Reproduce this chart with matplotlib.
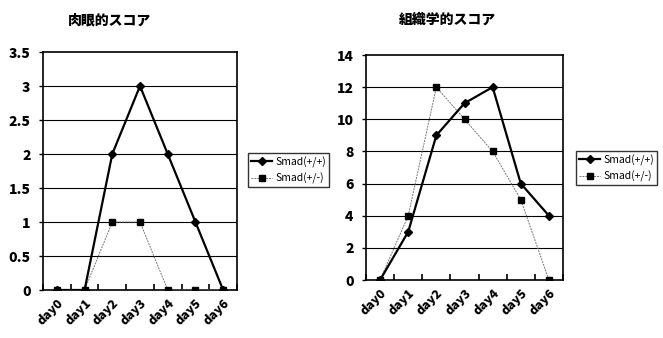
import numpy as np
import matplotlib.pyplot as plt

plt.rcParams['font.family'] = ['Noto Sans CJK JP', 'DejaVu Sans']

days = ['day0', 'day1', 'day2', 'day3', 'day4', 'day5', 'day6']
titles = ['肉眼的スコア', '組織学的スコア']
series_names = ['Smad(+/+)', 'Smad(+/-)']

macro_wt = [0, 0, 2, 3, 2, 1, 0]
macro_het = [0, 0, 1, 1, 0, 0, 0]
histo_wt = [0, 3, 9, 11, 12, 6, 4]
histo_het = [0, 4, 12, 10, 8, 5, 0]

ylims = [(0, 3.5, 0.5), (0, 14, 2)]

fig = plt.figure(figsize=(6.63, 3.38), dpi=100)
W, H = 663, 338
boxes = [(43, 52, 237, 290), (366, 55, 563, 280)]
legpos = [(243, 148), (571, 146)]
titlepos = [(110, 20), (447, 20)]
data = [(macro_wt, macro_het), (histo_wt, histo_het)]

x = np.arange(len(days))
for i in range(2):
    l, t, r, b = boxes[i]
    ax = fig.add_axes([l / W, 1 - b / H, (r - l) / W, (b - t) / H])
    wt, het = data[i]
    ymin, ymax, step = ylims[i]
    ax.plot(x, het, color='#777777', lw=0.7, ls=(0, (2, 1)), marker='s', ms=4,
            mfc='black', mec='black', label=series_names[1], zorder=3)
    ax.plot(x, wt, color='black', lw=1.6, marker='D', ms=4,
            mfc='black', mec='black', label=series_names[0], zorder=4)
    ax.set_xlim(-0.5, 6.5)
    ax.set_ylim(ymin, ymax)
    yt = np.arange(ymin, ymax + step / 2, step)
    ax.set_yticks(yt)
    ax.set_yticklabels([f'{v:g}' for v in yt], fontsize=10, fontweight='heavy')
    for v in yt[1:-1]:
        ax.axhline(v, color='black', lw=0.8, zorder=1)
    ax.set_xticks(x)
    ax.set_xticklabels(days, rotation=45, ha='right', rotation_mode='anchor',
                       fontsize=9, fontweight='heavy')
    ax.tick_params(axis='x', length=0, pad=5)
    ax.set_xticks(np.arange(-0.5, 7, 1), minor=True)
    ax.tick_params(axis='x', which='minor', direction='in', length=4, width=1.2)
    ax.tick_params(axis='y', length=3, direction='out', width=1.0, pad=6)
    for s in ax.spines.values():
        s.set_linewidth(1.2)
    tx, ty = titlepos[i]
    fig.text(tx / W, 1 - ty / H, titles[i], ha='center', va='center',
             fontsize=10, fontweight='heavy')
    h, lb = ax.get_legend_handles_labels()
    lx, ly = legpos[i]
    fig.legend(h[::-1], lb[::-1], loc='upper left',
               bbox_to_anchor=(lx / W, 1 - ly / H), fontsize=7.5, frameon=True,
               fancybox=False, edgecolor='black', handlelength=2.0,
               borderpad=0.3, labelspacing=0.5, handletextpad=0.3)

fig.savefig('out.png', dpi=100)
